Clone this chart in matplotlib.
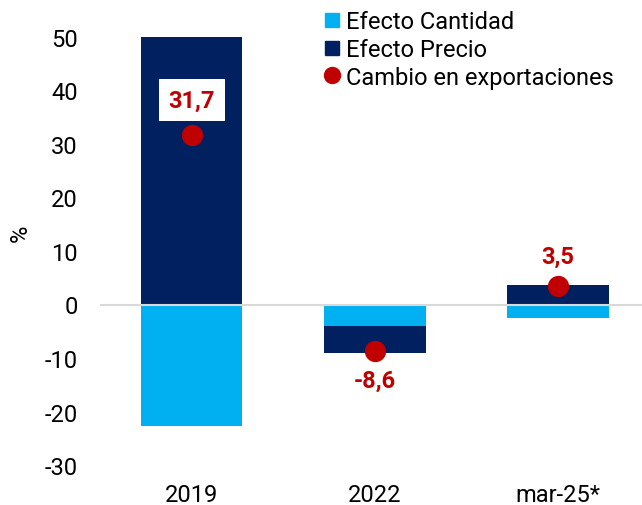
import matplotlib.pyplot as plt
from matplotlib.lines import Line2D

categories = ["2019", "2022", "mar-25*"]
efecto_cantidad = [-22.7, -4.0, -2.5]
efecto_precio = [54.4, -5.0, 3.7]
cambio_export = [31.7, -8.6, 3.5]
labels = ["31,7", "-8,6", "3,5"]

c_cant = "#00B0F0"
c_prec = "#002060"
c_red = "#C00000"

plt.rcParams['font.family'] = ['Roboto', 'DejaVu Sans']
plt.rcParams['axes.unicode_minus'] = False

fig = plt.figure(figsize=(6.42, 5.06), dpi=100)
ax = fig.add_axes([100 / 642, 40 / 506, 546 / 642, 428 / 506])

x = list(range(len(categories)))
w = 0.555
ax.axhline(0, color="#d9d9d9", lw=1.5, zorder=2.5)
ax.bar(x, efecto_cantidad, w, color=c_cant, zorder=2)
# precio stacked on cantidad when same sign
bottoms = [c if (c < 0 and p < 0) else 0 for c, p in zip(efecto_cantidad, efecto_precio)]
ax.bar(x, efecto_precio, w, bottom=bottoms, color=c_prec, zorder=2)
ax.scatter(x, cambio_export, s=205, color=c_red, zorder=3)

ax.text(0, 38.2, labels[0], ha="center", va="center", color=c_red, fontsize=17,
        fontweight="bold", bbox=dict(facecolor="white", edgecolor="none", pad=7))
ax.text(1, -14.1, labels[1], ha="center", va="center", color=c_red, fontsize=17, fontweight="bold")
ax.text(2, 9.0, labels[2], ha="center", va="center", color=c_red, fontsize=17, fontweight="bold")

ax.set_ylim(-30, 50)
ax.set_xlim(-0.5, 2.48)
ax.set_yticks(range(-30, 51, 10))
ax.set_xticks(x)
ax.set_xticklabels(categories)
ax.tick_params(length=0, labelsize=17)
ax.tick_params(axis="y", pad=16)
ax.tick_params(axis="x", pad=13)
for s in ax.spines.values():
    s.set_visible(False)
fig.text(20 / 642, 1 - 233 / 506, "%", rotation=90, ha="center", va="center", fontsize=17)

handles = [
    Line2D([], [], ls="none", marker="s", ms=9.4, color=c_cant),
    Line2D([], [], ls="none", marker="s", ms=9.4, color=c_prec),
    Line2D([], [], ls="none", marker="o", ms=11.5, color=c_red),
]
ax.legend(handles, ["Efecto Cantidad", "Efecto Precio", "Cambio en exportaciones"],
          loc="upper left", bbox_to_anchor=(315 / 642, 0.9966), bbox_transform=fig.transFigure,
          frameon=False, fontsize=17, handlelength=0.6, handletextpad=0.3,
          labelspacing=0.2, borderaxespad=0)

fig.savefig("out.png", dpi=100)
